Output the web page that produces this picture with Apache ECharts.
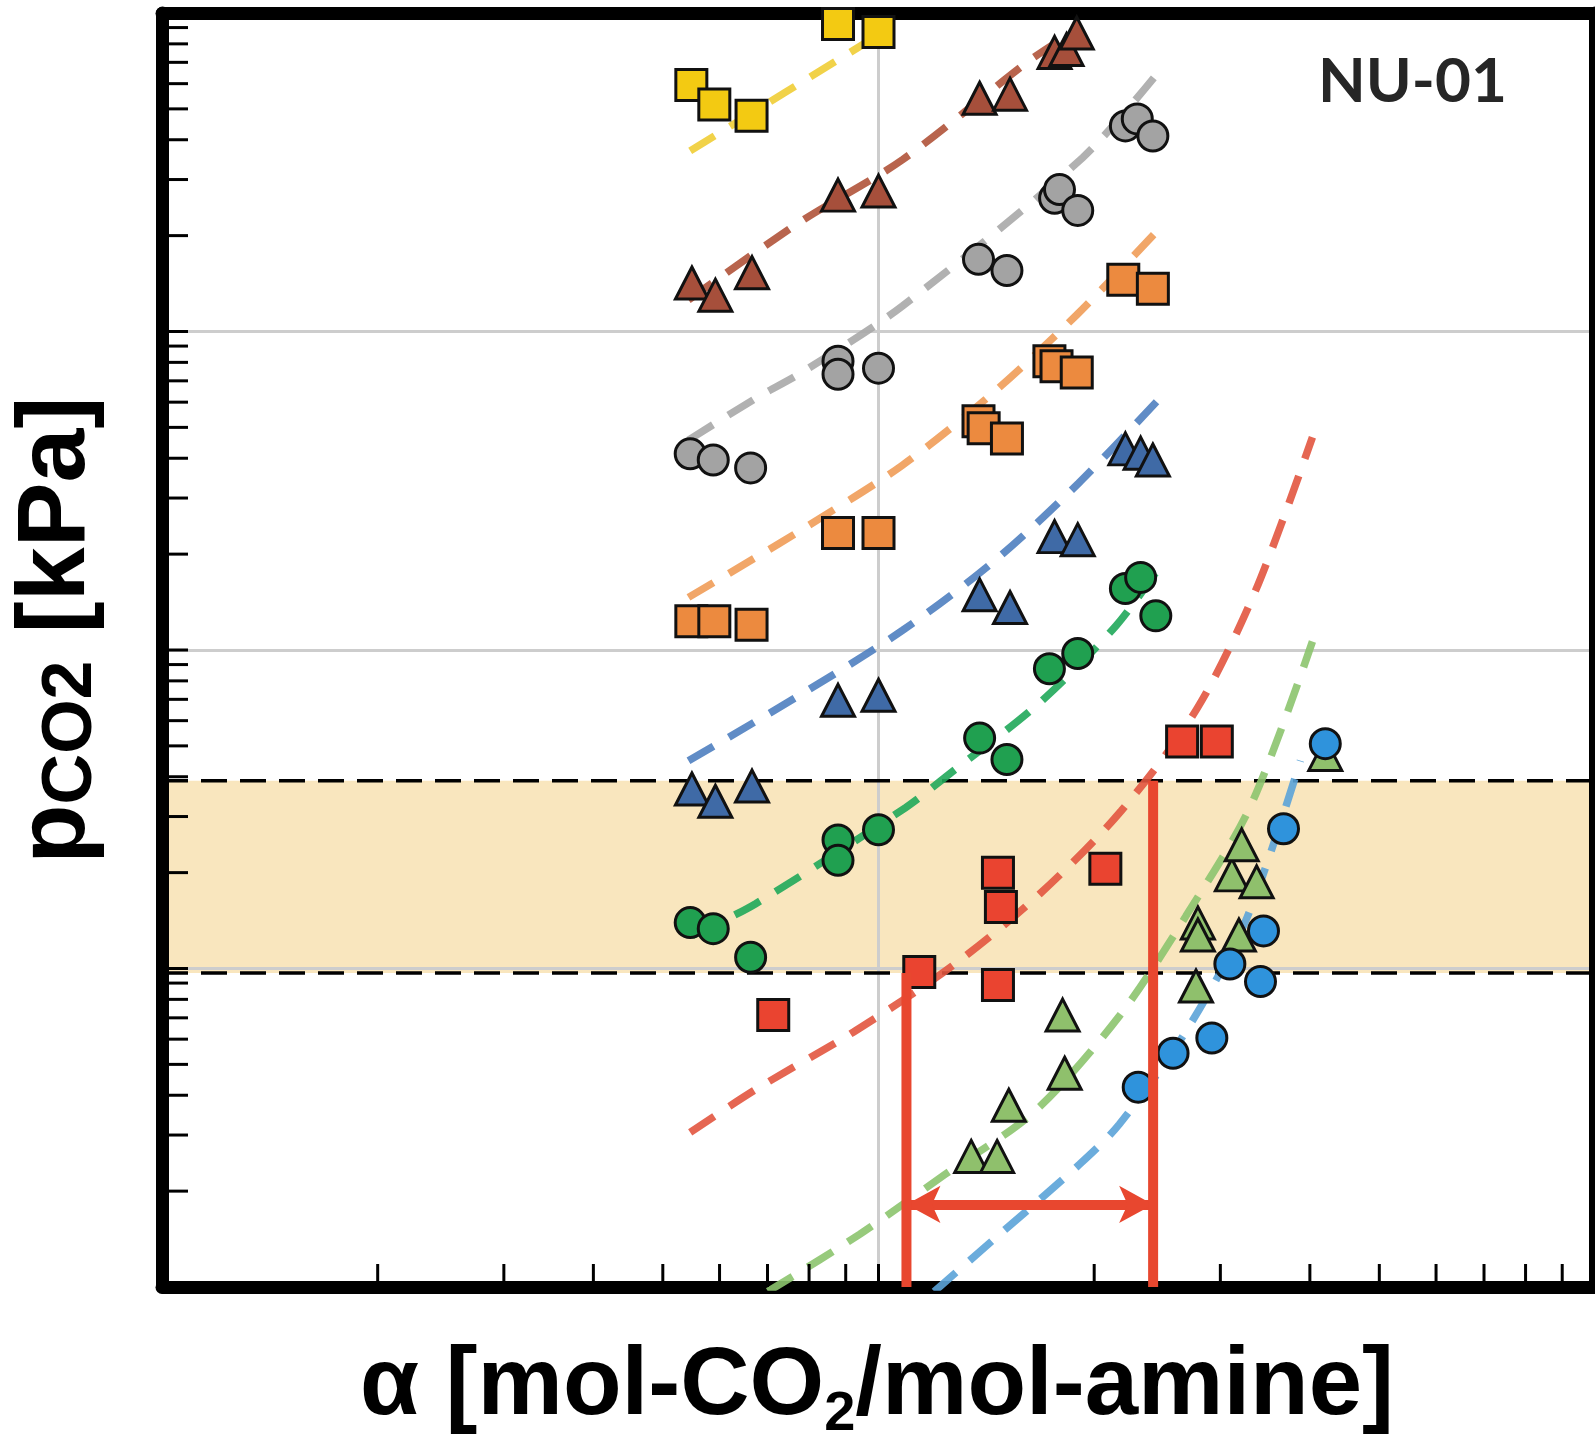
<!DOCTYPE html>
<html><head><meta charset="utf-8">
<script src="https://cdn.jsdelivr.net/npm/echarts@6/dist/echarts.min.js"></script>
<style>html,body{margin:0;padding:0;background:#fff}#c{width:1595px;height:1436px}</style>
</head><body><div id="c"></div>
<script>
// ---- axis ranges / ticks ----
const X_MIN = 0.1, X_MAX = 10, Y_MIN = 0.1, Y_MAX = 1000;
const xTickValues = [0.2,0.3,0.4,0.5,0.6,0.7,0.8,0.9,1,2,3,4,5,6,7,8,9];
const yTickValues = [0.2,0.3,0.4,0.5,0.6,0.7,0.8,0.9,1,2,3,4,5,6,7,8,9,10,20,30,40,50,60,70,80,90,100,200,300,400,500,600,700,800,900];

// ---- measured points (alpha, pCO2 kPa) ----
const yellowX = [0.548, 0.590, 0.665, 0.878, 1.00];
const yellowY = [594, 516, 476, 924, 871];
const brownX = [0.549, 0.592, 0.666, 0.878, 1.00, 1.384, 1.526, 1.761, 1.830, 1.891];
const brownY = [142, 130, 153, 268, 276, 540, 556, 752, 768, 865];
const grayX = [0.546, 0.588, 0.663, 0.878, 0.878, 1.00, 1.379, 1.511, 1.761, 1.789, 1.897, 2.211, 2.297, 2.415];
const grayY = [41.3, 39.5, 37.3, 80.7, 73.4, 76.7, 168.5, 155.4, 262, 279, 240, 442, 465, 411];
const orangeX = [0.548, 0.590, 0.665, 0.878, 1.00, 1.379, 1.402, 1.511, 1.732, 1.772, 1.891, 2.196, 2.415];
const orangeY = [12.3, 12.3, 12.0, 23.3, 23.3, 52.3, 49.7, 46.1, 80.7, 77.8, 74.4, 145.5, 136.1];
const blueX = [0.549, 0.592, 0.666, 0.878, 1.00, 1.384, 1.526, 1.761, 1.897, 2.211, 2.322, 2.415];
const blueY = [3.66, 3.35, 3.74, 6.95, 7.21, 14.9, 13.6, 22.7, 22.2, 42.8, 41.5, 39.5];
const greenX = [0.546, 0.588, 0.663, 0.878, 0.878, 1.00, 1.384, 1.511, 1.732, 1.897, 2.211, 2.322, 2.438];
const greenY = [1.394, 1.334, 1.085, 2.532, 2.186, 2.726, 5.29, 4.53, 8.73, 9.75, 15.6, 16.9, 12.8];
const redX = [0.713, 1.140, 1.468, 1.482, 1.468, 2.073, 2.653, 2.966];
const redY = [0.714, 0.975, 1.997, 1.561, 0.887, 2.056, 5.16, 5.16];
const lgreenX = [1.347, 1.464, 1.520, 1.807, 1.819, 2.774, 2.791, 2.791, 3.184, 3.113, 3.371, 3.213, 4.203];
const lgreenY = [0.257, 0.257, 0.372, 0.714, 0.469, 0.881, 1.390, 1.274, 1.274, 1.968, 1.871, 2.445, 4.70];
const lblueX = [2.304, 2.577, 2.919, 3.093, 3.446, 3.413, 3.675, 4.203];
const lblueY = [0.424, 0.542, 0.605, 1.033, 1.312, 0.910, 2.746, 5.08];

// ---- fitted curves ----
const fitYellowX = [0.546, 1.013];
const fitYellowY = [369, 869];
const fitBrownX = [0.543, 0.774, 1.080, 1.610, 1.789];
const fitBrownY = [125.7, 219.4, 346.2, 698.8, 819.4];
const fitGrayX = [0.543, 0.675, 0.787, 1.080, 1.927, 2.456];
const fitGrayY = [45.6, 61.8, 75.1, 120.3, 351.3, 649.9];
const fitOrangeX = [0.543, 0.671, 0.787, 1.080, 1.444, 1.890, 2.456];
const fitOrangeY = [14.63, 19.40, 24.10, 38.04, 64.06, 112.7, 208.5];
const fitBlueX = [0.543, 0.787, 1.080, 1.454, 1.902, 2.456];
const fitBlueY = [4.49, 7.35, 11.52, 19.11, 33.39, 60.9];
const fitGreenX = [0.550, 0.673, 1.090, 1.247, 1.679, 2.147, 2.488];
const fitGreenY = [1.27, 1.595, 3.196, 4.030, 6.836, 11.94, 18.71];
const fitRedX = [0.546, 0.675, 0.923, 1.267, 1.679, 2.182, 2.783, 3.360, 4.033];
const fitRedY = [0.306, 0.418, 0.632, 1.018, 1.715, 3.128, 6.546, 15.39, 46.57];
const fitLgreenX = [0.701, 0.941, 1.239, 1.652, 2.168, 2.687, 3.307, 4.033];
const fitLgreenY = [0.0968, 0.1463, 0.2259, 0.3563, 0.7088, 1.463, 3.243, 10.63];
const fitLblueX = [1.196, 1.454, 1.908, 2.168, 2.687, 3.254, 3.880];
const fitLblueY = [0.0968, 0.1421, 0.2427, 0.3243, 0.6363, 1.411, 4.492];

// ---- operating window ----
const bandLow = 0.968, bandHigh = 3.887;
const leanAlpha = 1.094, richAlpha = 2.417, arrowP = 0.1817;

function pairs(xs, ys) { return xs.map((x, i) => [x, ys[i]]); }

const chart = echarts.init(document.getElementById('c'), null, {renderer: 'canvas'});

function fit(xs, ys, color) {
  return {type: 'line', data: pairs(xs, ys), showSymbol: false, symbol: 'none', smooth: 0.3, z: 2, silent: true,
    lineStyle: {color: color, width: 7.5, type: [29, 18], opacity: 0.9}};
}
function pts(xs, ys, symbol, size, color) {
  return {type: 'scatter', data: pairs(xs, ys), symbol: symbol, symbolSize: size, clip: false, z: 3, silent: true,
    itemStyle: {color: color, borderColor: '#111', borderWidth: 3, opacity: 1}};
}
const RED = '#e8472f';
const axisLineStyle = {show: true, onZero: false, lineStyle: {color: '#000', width: 13}};

const option = {
  animation: false,
  backgroundColor: '#fff',
  grid: {left: 162, right: -5, top: 13, bottom: 149, containLabel: false},
  xAxis: [
    {type: 'log', logBase: 10, min: X_MIN, max: X_MAX, position: 'bottom', axisLine: axisLineStyle,
      axisTick: {show: false}, axisLabel: {show: false},
      splitLine: {show: true, lineStyle: {color: '#cdcdcd', width: 3}}},
    {type: 'log', logBase: 10, min: X_MIN, max: X_MAX, position: 'top', axisLine: axisLineStyle,
      axisTick: {show: false}, axisLabel: {show: false}, splitLine: {show: false}}
  ],
  yAxis: [
    {type: 'log', logBase: 10, min: Y_MIN, max: Y_MAX, position: 'left', axisLine: axisLineStyle,
      axisTick: {show: false}, axisLabel: {show: false},
      splitLine: {show: true, lineStyle: {color: '#cdcdcd', width: 3}}},
    {type: 'log', logBase: 10, min: Y_MIN, max: Y_MAX, position: 'right', axisLine: axisLineStyle,
      axisTick: {show: false}, axisLabel: {show: false}, splitLine: {show: false}}
  ],
  graphic: [
    {type: 'text', x: 877, y: 1388, z: 100, style: {
      text: '{a|α [mol-CO}{s|2}{a|/mol-amine]}', align: 'center', verticalAlign: 'middle',
      rich: {
        a: {fontFamily: 'Liberation Sans, Arial, sans-serif', fontWeight: 'bold', fontSize: 96, lineHeight: 110, fill: '#000'},
        s: {fontFamily: 'Liberation Sans, Arial, sans-serif', fontWeight: 'bold', fontSize: 56, lineHeight: 48, verticalAlign: 'bottom', fill: '#000'}
      }}},
    {type: 'text', x: 57, y: 630, rotation: Math.PI / 2, z: 100, style: {
      text: '{a|p}{s|CO2}{a| [kPa]}', align: 'center', verticalAlign: 'middle',
      rich: {
        a: {fontFamily: 'Liberation Sans, Arial, sans-serif', fontWeight: 'bold', fontSize: 97, lineHeight: 100, fill: '#000'},
        s: {fontFamily: 'Liberation Sans, Arial, sans-serif', fontWeight: 'bold', fontSize: 70, lineHeight: 34, verticalAlign: 'bottom', fill: '#000'}
      }}},
    {type: 'text', x: 1318, y: 82, z: 100, style: {
      text: 'NU-01', fontFamily: 'Lato, Open Sans, sans-serif', fontWeight: 'bold', fontSize: 62, fill: '#262626',
      align: 'left', verticalAlign: 'middle'}}
  ],
  series: [
    {type: 'custom', coordinateSystem: 'cartesian2d', z: -1, silent: true, data: [[bandLow, bandHigh]],
      renderItem: function (params, api) {
        const a = api.coord([X_MIN, api.value(1)]);
        const b = api.coord([X_MAX, api.value(0)]);
        return {type: 'rect', shape: {x: a[0], y: a[1], width: b[0] - a[0], height: b[1] - a[1]}, style: {fill: '#f9e6be'}};
      }},
    {type: 'line', data: [[X_MIN, bandLow], [X_MAX, bandLow]], symbol: 'none', z: 2, silent: true,
      lineStyle: {color: '#000', width: 3.5, type: [26, 13]}},
    {type: 'line', data: [[X_MIN, bandHigh], [X_MAX, bandHigh]], symbol: 'none', z: 2, silent: true,
      lineStyle: {color: '#000', width: 3.5, type: [26, 13]}},
    fit(fitYellowX, fitYellowY, '#efcd35'),
    fit(fitBrownX, fitBrownY, '#b0533a'),
    fit(fitGrayX, fitGrayY, '#a8a8a8'),
    fit(fitOrangeX, fitOrangeY, '#ef9c58'),
    fit(fitBlueX, fitBlueY, '#4f7fc0'),
    fit(fitGreenX, fitGreenY, '#20a85a'),
    fit(fitRedX, fitRedY, '#e2553f'),
    fit(fitLgreenX, fitLgreenY, '#8cc46e'),
    fit(fitLblueX, fitLblueY, '#5ba3d8'),
    pts(yellowX, yellowY, 'rect', 31, '#f3ca12'),
    pts(brownX, brownY, 'triangle', [33, 32], '#a64f3b'),
    pts(grayX, grayY, 'circle', 30, '#a3a3a3'),
    pts(orangeX, orangeY, 'rect', 31, '#ec8a3f'),
    pts(blueX, blueY, 'triangle', [33, 32], '#3f6aa6'),
    pts(greenX, greenY, 'circle', 30, '#20a050'),
    pts(redX, redY, 'rect', 31, '#ea4430'),
    pts(lgreenX, lgreenY, 'triangle', [33, 32], '#8fc06c'),
    pts(lblueX, lblueY, 'circle', 30, '#2f93dc'),
    {type: 'line', data: [[leanAlpha, bandLow], [leanAlpha, Y_MIN]], symbol: 'none', z: 6, silent: true, clip: false,
      lineStyle: {color: RED, width: 10}},
    {type: 'line', data: [[richAlpha, bandHigh], [richAlpha, Y_MIN]], symbol: 'none', z: 6, silent: true, clip: false,
      lineStyle: {color: RED, width: 10},
      markLine: {silent: true, symbol: ['arrow', 'arrow'], symbolSize: [28, 34], z: 6, label: {show: false},
        lineStyle: {color: RED, width: 10, type: 'solid'},
        data: [[{coord: [leanAlpha, arrowP]}, {coord: [richAlpha, arrowP]}]]}},
    {type: 'custom', coordinateSystem: 'cartesian2d', z: 7, silent: true,
      data: yTickValues.map(v => [X_MIN, v]),
      renderItem: function (params, api) {
        const p = api.coord([api.value(0), api.value(1)]);
        return {type: 'line', shape: {x1: p[0], y1: p[1], x2: p[0] + 26, y2: p[1]}, style: {stroke: '#000', lineWidth: 3}};
      }},
    {type: 'custom', coordinateSystem: 'cartesian2d', z: 7, silent: true,
      data: xTickValues.map(v => [v, Y_MIN]),
      renderItem: function (params, api) {
        const p = api.coord([api.value(0), api.value(1)]);
        return {type: 'line', shape: {x1: p[0], y1: p[1], x2: p[0], y2: p[1] - 23}, style: {stroke: '#000', lineWidth: 3}};
      }}
  ]
};
chart.setOption(option);
</script>
</body></html>
